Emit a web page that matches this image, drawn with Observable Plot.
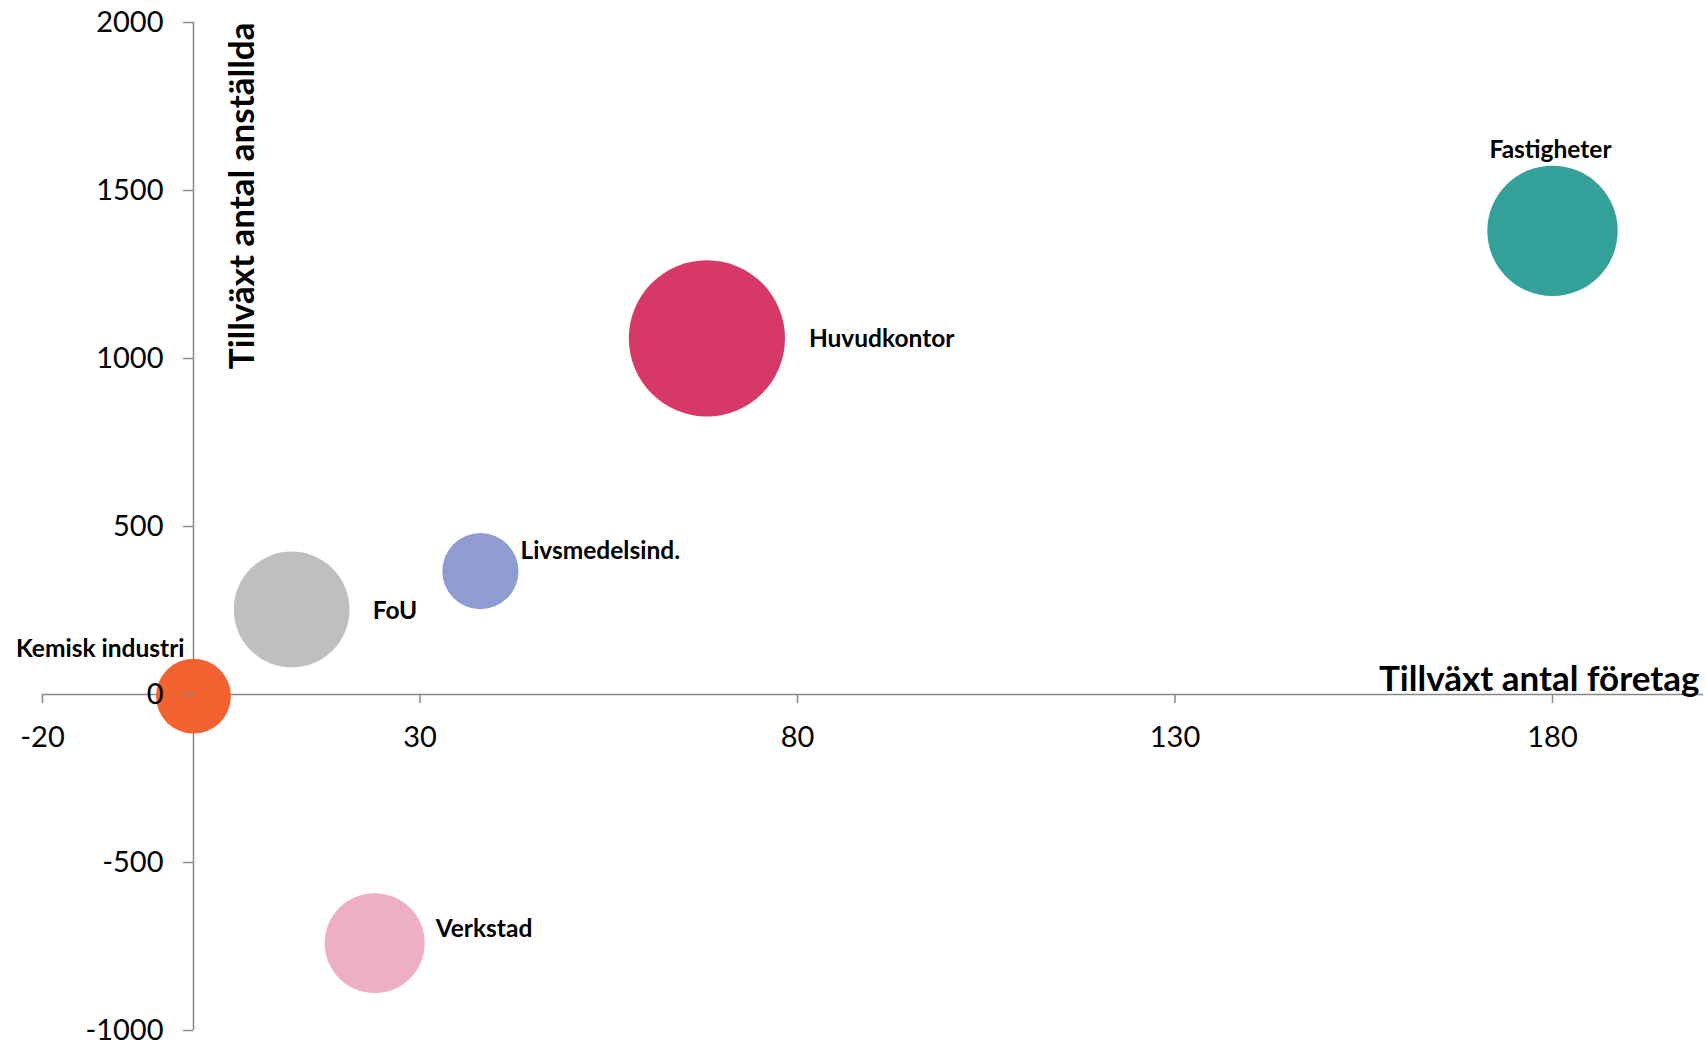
<!DOCTYPE html>
<html>
<head>
<meta charset="utf-8">
<script src="https://cdn.jsdelivr.net/npm/d3@7"></script>
<script src="https://cdn.jsdelivr.net/npm/@observablehq/plot@0.6"></script>
<style>
  html, body { margin: 0; padding: 0; background: #ffffff; }
  #chart svg { display: block; }
</style>
</head>
<body>
<div id="chart"></div>
<script>
// ---- data ----
const sectors = ["Kemisk industri", "FoU", "Livsmedelsind.", "Huvudkontor", "Fastigheter", "Verkstad"];
const firmGrowth = [0, 13, 38, 68, 180, 24];
const employeeGrowth = [-5, 253, 367, 1060, 1380, -740];
const bubbleSize = [1400, 3350, 1450, 6100, 4250, 2500];
const sectorColors = ["#F26130", "#BFBFBF", "#8E9CD2", "#D63868", "#33A09A", "#EEAFC2"];
const xTicks = [-20, 30, 80, 130, 180];
const yTicks = [-1000, -500, 0, 500, 1000, 1500, 2000];
const xTitle = "Tillväxt antal företag";
const yTitle = "Tillväxt antal anställda";

// ---- label placement (style, in pixels relative to bubble centre) ----
const labelPlacement = {
  "Kemisk industri": {dx: -9, dy: -47, textAnchor: "end"},
  "FoU": {dx: 81, dy: 2, textAnchor: "start"},
  "Livsmedelsind.": {dx: 40, dy: -20, textAnchor: "start"},
  "Huvudkontor": {dx: 102, dy: 1, textAnchor: "start"},
  "Fastigheter": {dx: -2, dy: -81, textAnchor: "middle"},
  "Verkstad": {dx: 61, dy: -14, textAnchor: "start"}
};

const data = sectors.map((name, i) => ({
  name, x: firmGrowth[i], y: employeeGrowth[i], size: bubbleSize[i], color: sectorColors[i]
}));

const axisGray = "#898989";
const font = "Lato, 'Open Sans', sans-serif";
const plainNumber = d => String(d);

const labelMarks = data.map(d => Plot.text([d], {
  x: "x", y: "y", text: "name",
  dx: labelPlacement[d.name].dx, dy: labelPlacement[d.name].dy,
  textAnchor: labelPlacement[d.name].textAnchor,
  fontSize: 24.5, fontWeight: "bold", fill: "#000"
}));

const chart = Plot.plot({
  width: 1706,
  height: 1044,
  marginLeft: 42,
  marginRight: 3,
  marginTop: 22,
  marginBottom: 14,
  style: {fontFamily: font, background: "#ffffff", overflow: "visible", color: "#000"},
  x: {domain: [-20, 200]},
  y: {domain: [-1000, 2000]},
  r: {type: "sqrt", domain: [0, 6131], range: [0, 78.3]},
  marks: [
    Plot.ruleY([0], {x1: -20, x2: 200, stroke: axisGray, strokeWidth: 1.5}),
    Plot.ruleX([0], {y1: -1000, y2: 2000, stroke: axisGray, strokeWidth: 1.5}),
    Plot.axisX(xTicks, {y: 0, tickSize: 9, tickPadding: 23, tickFormat: plainNumber, stroke: axisGray, strokeWidth: 1.5, fill: "#000", fontSize: 29, label: null}),
    Plot.dot(data, {x: "x", y: "y", r: "size", fill: "color", stroke: "none"}),
    Plot.axisY(yTicks, {x: 0, anchor: "left", tickSize: 10, tickPadding: 20, tickFormat: plainNumber, stroke: axisGray, strokeWidth: 1.5, fill: "#000", fontSize: 29, label: null}),
    Plot.text([xTitle], {x: 200, y: 0, text: d => d, textAnchor: "end", lineAnchor: "bottom", dx: -4, dy: -4, fontSize: 35, fontWeight: "bold", fill: "#000"}),
    Plot.text([yTitle], {x: 0, y: 2000, text: d => d, rotate: -90, textAnchor: "end", lineAnchor: "middle", dx: 49, dy: 0, fontSize: 35, fontWeight: "bold", fill: "#000"}),
    ...labelMarks
  ]
});

document.getElementById("chart").appendChild(chart);
</script>
</body>
</html>
